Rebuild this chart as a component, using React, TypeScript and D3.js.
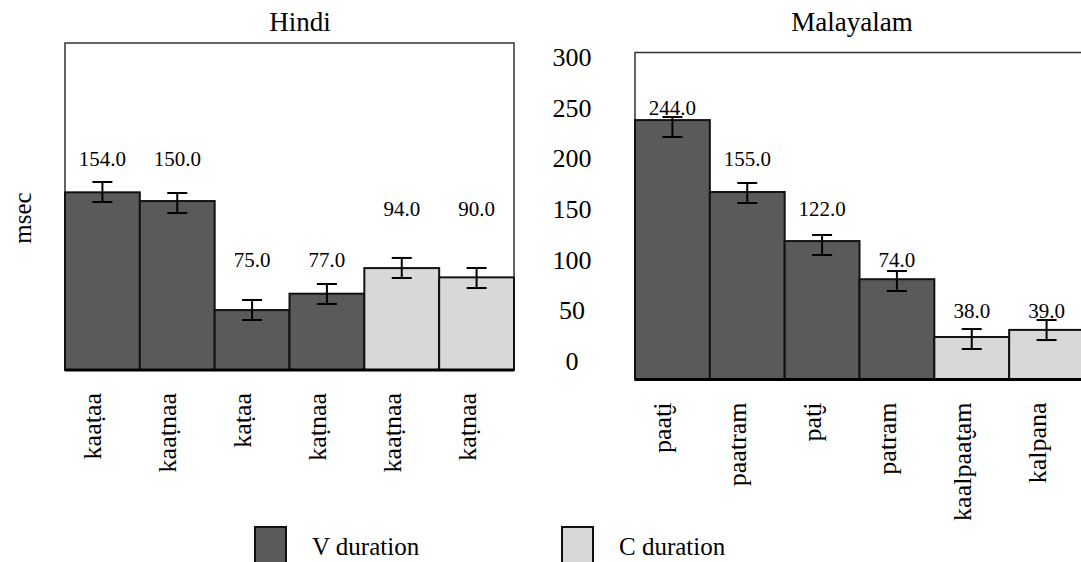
import React from "react";
import * as d3 from "d3";

// ---- data ----
const hindiWords = ["kaaṭaa", "kaaṭnaa", "kaṭaa", "kaṭnaa", "kaaṭnaa", "kaṭnaa"];
const hindiSeries = ["V", "V", "V", "V", "C", "C"];
const hindiBars = [163, 155, 55, 70, 93.5, 85];
const hindiErrHigh = [172.5, 162.4, 64.2, 78.9, 102.8, 93.6];
const hindiErrLow = [154.1, 144.0, 45.9, 60.6, 84.4, 75.2];
const hindiLabels = ["154.0", "150.0", "75.0", "77.0", "94.0", "90.0"];
const hindiLabelPos = [200, 200, 100, 100, 150, 150];

const malWords = ["paat̮i", "paatram", "pat̮i", "patram", "kaalpaat̮am", "kalpana"];
const malSeries = ["V", "V", "V", "V", "C", "C"];
const malBars = [238, 172, 127, 92, 39, 45.5];
const malErrHigh = [240.8, 180.3, 132.6, 99.5, 46.3, 54.6];
const malErrLow = [222.5, 161.9, 114.2, 81.2, 28.0, 36.2];
const malLabels = ["244.0", "155.0", "122.0", "74.0", "38.0", "39.0"];
const malLabelPos = [250, 200, 150, 100, 50, 50];

const axisTicks = [0, 50, 100, 150, 200, 250, 300];
const legendItems = [
  { key: "V", label: "V duration" },
  { key: "C", label: "C duration" },
];

const colors: Record<string, string> = { V: "#5a5a5a", C: "#d8d8d8" };
const FONT =
  "Liberation Serif, Tinos, Noto Serif, FreeSerif, Nimbus Roman, Times, serif";
const txt = { fontFamily: FONT };

type PanelProps = {
  title: string;
  titleX: number;
  x0: number;
  top: number;
  bottom: number;
  words: string[];
  series: string[];
  bars: number[];
  hi: number[];
  lo: number[];
  labels: string[];
  labelPos: number[];
};

// scale for the tick-label column / value label placement
const axisY = d3.scaleLinear().domain([0, 300]).range([361, 57]);

function Panel(p: PanelProps) {
  const width = 449;
  const x = d3
    .scaleBand<number>()
    .domain(d3.range(p.words.length))
    .range([p.x0, p.x0 + width])
    .padding(0);
  const y = d3.scaleLinear().domain([0, 300]).range([p.bottom, p.top]);
  const bw = x.bandwidth();
  return (
    <g>
      <text x={p.titleX} y={31} textAnchor="middle" fontSize={27} style={txt}>
        {p.title}
      </text>
      <rect
        x={p.x0}
        y={p.top}
        width={width}
        height={p.bottom - p.top}
        fill="#fff"
        stroke="#333"
        strokeWidth={1.5}
      />
      {p.bars.map((v, i) => (
        <rect
          key={"b" + i}
          x={x(i)!}
          y={y(v)}
          width={bw}
          height={p.bottom - y(v)}
          fill={colors[p.series[i]]}
          stroke="#111"
          strokeWidth={2}
        />
      ))}
      <line
        x1={p.x0}
        x2={p.x0 + width}
        y1={p.bottom}
        y2={p.bottom}
        stroke="#000"
        strokeWidth={3}
      />
      {p.bars.map((_, i) => {
        const cx = x(i)! + bw / 2;
        return (
          <g key={"e" + i} stroke="#000" strokeWidth={2}>
            <line x1={cx} x2={cx} y1={y(p.hi[i])} y2={y(p.lo[i])} />
            <line x1={cx - 10} x2={cx + 10} y1={y(p.hi[i])} y2={y(p.hi[i])} />
            <line x1={cx - 10} x2={cx + 10} y1={y(p.lo[i])} y2={y(p.lo[i])} />
          </g>
        );
      })}
      {p.labels.map((t, i) => (
        <text
          key={"l" + i}
          x={x(i)! + bw / 2}
          y={axisY(p.labelPos[i])}
          dy="0.35em"
          textAnchor="middle"
          fontSize={21}
          style={txt}
        >
          {t}
        </text>
      ))}
      {p.words.map((w, i) => {
        const cx = x(i)! + bw / 2 - 1;
        const ty = p.bottom + 23;
        return (
          <text
            key={"w" + i}
            transform={`translate(${cx},${ty}) rotate(-90)`}
            textAnchor="end"
            fontSize={26}
            style={txt}
          >
            {w}
          </text>
        );
      })}
    </g>
  );
}

export default function App() {
  return (
    <svg
      width={1081}
      height={562}
      style={{ position: "absolute", left: 0, top: 0, background: "#fff" }}
    >
      <rect width={1081} height={562} fill="#fff" />
      <Panel
        title="Hindi"
        titleX={300}
        x0={65}
        top={43}
        bottom={370}
        words={hindiWords}
        series={hindiSeries}
        bars={hindiBars}
        hi={hindiErrHigh}
        lo={hindiErrLow}
        labels={hindiLabels}
        labelPos={hindiLabelPos}
      />
      <Panel
        title="Malayalam"
        titleX={852}
        x0={635}
        top={52.5}
        bottom={379.5}
        words={malWords}
        series={malSeries}
        bars={malBars}
        hi={malErrHigh}
        lo={malErrLow}
        labels={malLabels}
        labelPos={malLabelPos}
      />
      {axisTicks.map((t) => (
        <text
          key={"t" + t}
          x={572}
          y={axisY(t)}
          dy="0.35em"
          textAnchor="middle"
          fontSize={26}
          style={txt}
        >
          {t}
        </text>
      ))}
      <text
        transform="translate(31,218) rotate(-90)"
        textAnchor="middle"
        fontSize={25}
        style={txt}
      >
        msec
      </text>
      {legendItems.map((it, i) => {
        const lx = i === 0 ? 255 : 562;
        return (
          <g key={it.key}>
            <rect
              x={lx}
              y={527}
              width={31}
              height={36}
              fill={colors[it.key]}
              stroke="#111"
              strokeWidth={2}
            />
            <text x={lx + 57} y={555} fontSize={25} style={txt}>
              {it.label}
            </text>
          </g>
        );
      })}
    </svg>
  );
}
